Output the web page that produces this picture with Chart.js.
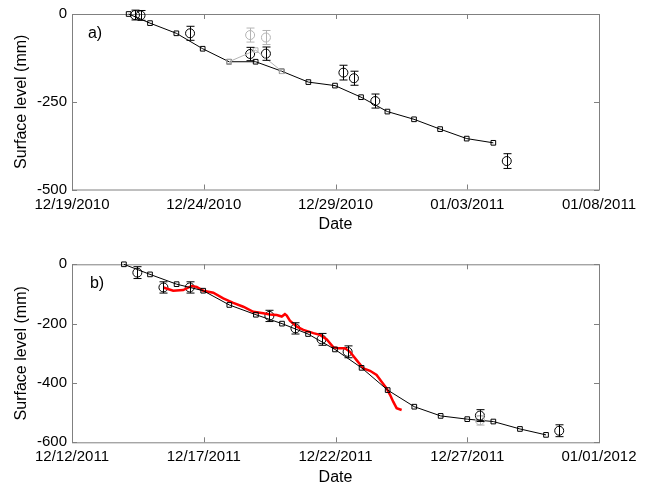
<!DOCTYPE html>
<html>
<head>
<meta charset="utf-8">
<script src="https://cdn.jsdelivr.net/npm/chart.js@4"></script>
<style>
  body { margin: 0; background: #fff; }
  #wrap { position: relative; width: 656px; height: 490px; }
  canvas { position: absolute; left: 0; }
  #top { top: 0; }
  #bottom { top: 245px; }
</style>
</head>
<body>
<div id="wrap">
  <canvas id="top" width="656" height="245"></canvas>
  <canvas id="bottom" width="656" height="245"></canvas>
</div>
<script>
// x values are days after the first tick date
const topTicks = ["12/19/2010", "12/24/2010", "12/29/2010", "01/03/2011", "01/08/2011"];
const bottomTicks = ["12/12/2011", "12/17/2011", "12/22/2011", "12/27/2011", "01/01/2012"];

// panel a
const topModelDay = [2.15, 2.96, 3.96, 4.96, 5.96, 6.97, 7.96, 8.97, 9.98, 10.97, 11.97, 12.98, 13.97, 14.98, 15.99];
const topModelLevel = [0, -26, -55, -99, -136, -136, -163, -194, -204, -237, -278, -300, -328, -355, -367];
const topAltDay = [5.96, 6.97, 7.96];
const topAltLevel = [-136, -103, -163];
const topObsDay = [2.39, 2.6, 4.48, 6.76, 7.36, 10.3, 10.7, 11.51, 16.5];
const topObsLevel = [-3, -4, -55, -114, -113, -167, -183, -248, -419];
const topObsErr = [14, 14, 20, 19, 19, 21, 20, 20, 21];
const topGrayDay = [6.76, 7.36];
const topGrayLevel = [-60, -67];
const topGrayErr = [20, 20];

// panel b
const botModelDay = [1.97, 2.96, 3.97, 4.98, 5.97, 6.98, 7.97, 8.96, 9.98, 10.99, 11.98, 12.99, 13.99, 15.0, 15.99, 17.0, 17.99];
const botModelLevel = [0, -34, -67, -89, -137, -170, -200, -235, -287, -349, -424, -480, -511, -522, -530, -555, -575];
const botObsDay = [2.48, 3.47, 4.47, 7.49, 8.48, 9.47, 10.46, 15.48, 18.49];
const botObsLevel = [-28, -78, -78, -174, -216, -253, -295, -510, -561];
const botObsErr = [20, 19, 19, 19, 19, 20, 20, 20, 20];
const botGrayDay = [15.48];
const botGrayLevel = [-526];
const botGrayErr = [16];
const botSensorDay = [3.47, 3.84, 4.22, 4.54, 4.73, 4.98, 5.36, 5.74, 6.12, 6.5, 6.88, 7.26, 7.51, 7.77, 7.96, 8.08, 8.15, 8.27, 8.53, 8.78, 9.16, 9.41, 9.67, 9.92, 10.11, 10.36, 10.55, 10.8, 11.06, 11.31, 11.56, 11.75, 11.94, 12.07, 12.19, 12.32, 12.51];
const botSensorLevel = [-78, -89, -87, -73, -76, -89, -96, -115, -130, -143, -160, -165, -169, -171, -176, -168, -173, -190, -210, -221, -232, -238, -253, -280, -283, -283, -295, -323, -351, -359, -373, -396, -418, -440, -463, -485, -491];

const FONT = "'Liberation Sans', Arial, sans-serif";
const FRAME = "#808080";

function pts(xs, ys) {
  return xs.map((x, i) => ({ x, y: ys[i] }));
}

// box with inward ticks, error bars and panel letter
const decorPlugin = {
  id: "decor",
  beforeDatasetsDraw(chart, args, opts) {
    const { ctx, chartArea: a, scales } = chart;
    ctx.save();
    ctx.strokeStyle = FRAME;
    ctx.lineWidth = 1;
    ctx.strokeRect(a.left + 0.5, a.top + 0.5, a.right - a.left, a.bottom - a.top);
    ctx.beginPath();
    scales.x.ticks.forEach(t => {
      const px = Math.round(scales.x.getPixelForValue(t.value)) + 0.5;
      ctx.moveTo(px, a.bottom); ctx.lineTo(px, a.bottom - 5);
      ctx.moveTo(px, a.top); ctx.lineTo(px, a.top + 5);
    });
    scales.y.ticks.forEach(t => {
      const py = Math.round(scales.y.getPixelForValue(t.value)) + 0.5;
      ctx.moveTo(a.left, py); ctx.lineTo(a.left + 5, py);
      ctx.moveTo(a.right, py); ctx.lineTo(a.right - 5, py);
    });
    ctx.stroke();
    ctx.fillStyle = "#000";
    ctx.font = "16px " + FONT;
    ctx.textAlign = "center";
    ctx.textBaseline = "middle";
    ctx.fillText(opts.label, a.left + opts.dx, a.top + opts.dy);
    ctx.restore();
  },
  afterDatasetsDraw(chart) {
    const { ctx, scales } = chart;
    ctx.save();
    chart.data.datasets.forEach(ds => {
      if (!ds.errors) return;
      ctx.strokeStyle = ds.borderColor;
      ctx.lineWidth = 1;
      ctx.beginPath();
      ds.data.forEach((p, i) => {
        const x = Math.round(scales.x.getPixelForValue(p.x)) + 0.5;
        const y1 = scales.y.getPixelForValue(p.y + ds.errors[i]);
        const y2 = scales.y.getPixelForValue(p.y - ds.errors[i]);
        ctx.moveTo(x, y1); ctx.lineTo(x, y2);
        ctx.moveTo(x - 4, y1); ctx.lineTo(x + 4, y1);
        ctx.moveTo(x - 4, y2); ctx.lineTo(x + 4, y2);
      });
      ctx.stroke();
    });
    ctx.restore();
  }
};

function lineSet(data, color, width, marker) {
  return {
    data, borderColor: color, borderWidth: width, showLine: true,
    pointStyle: marker ? "rect" : false, pointRadius: marker ? 3.3 : 0,
    pointBorderColor: color, pointBackgroundColor: "rgba(0,0,0,0)", pointBorderWidth: 1,
    clip: false
  };
}

function obsSet(data, errors, color) {
  return {
    data, errors, borderColor: color, showLine: false,
    pointStyle: "circle", pointRadius: 4.5, pointBorderWidth: 1,
    pointBorderColor: color, pointBackgroundColor: "rgba(0,0,0,0)", clip: false
  };
}

function makeChart(id, datasets, ticks, yMin, yStep, layout) {
  new Chart(document.getElementById(id), {
    type: "scatter",
    data: { datasets },
    plugins: [decorPlugin],
    options: {
      responsive: false,
      animation: false,
      layout: { padding: { left: 0, right: 57, top: layout.top, bottom: 0 } },
      plugins: {
        legend: { display: false },
        tooltip: { enabled: false },
        decor: { label: layout.label, dx: layout.dx, dy: layout.dy }
      },
      scales: {
        x: {
          type: "linear", min: 0, max: 20,
          afterFit: s => { s.height = layout.xHeight; },
          grid: { display: false, drawTicks: false },
          border: { display: false },
          ticks: {
            stepSize: 5, padding: 6, color: "#000", maxRotation: 0,
            font: { family: FONT, size: 15 },
            callback: v => ticks[Math.round(v / 5)]
          },
          title: {
            display: true, text: "Date", color: "#000",
            font: { family: FONT, size: 16 },
            padding: { top: 0, bottom: layout.titlePad }
          }
        },
        y: {
          min: yMin, max: 0,
          afterFit: s => { s.width = 72; },
          grid: { display: false, drawTicks: false },
          border: { display: false },
          ticks: {
            stepSize: yStep, padding: 5, color: "#000",
            font: { family: FONT, size: 15 }
          },
          title: {
            display: true, text: "Surface level (mm)", color: "#000",
            font: { family: FONT, size: 16 },
            padding: { top: 12, bottom: 0 }
          }
        }
      }
    }
  });
}

makeChart("top", [
  obsSet(pts(topGrayDay, topGrayLevel), topGrayErr, "#b4b4b4"),
  lineSet(pts(topAltDay, topAltLevel), "#b4b4b4", 1, true),
  lineSet(pts(topModelDay, topModelLevel), "#000", 1, true),
  obsSet(pts(topObsDay, topObsLevel), topObsErr, "#000")
], topTicks, -500, 250, { top: 13.5, xHeight: 55.5, titlePad: 10.4, label: "a)", dx: 23, dy: 19.5 });

makeChart("bottom", [
  obsSet(pts(botGrayDay, botGrayLevel), botGrayErr, "#b4b4b4"),
  lineSet(pts(botModelDay, botModelLevel), "#000", 1, true),
  lineSet(pts(botSensorDay, botSensorLevel), "#ff0000", 2.5, false),
  obsSet(pts(botObsDay, botObsLevel), botObsErr, "#000")
], bottomTicks, -600, 200, { top: 19.3, xHeight: 47.7, titlePad: 2.4, label: "b)", dx: 25, dy: 19 });
</script>
</body>
</html>
